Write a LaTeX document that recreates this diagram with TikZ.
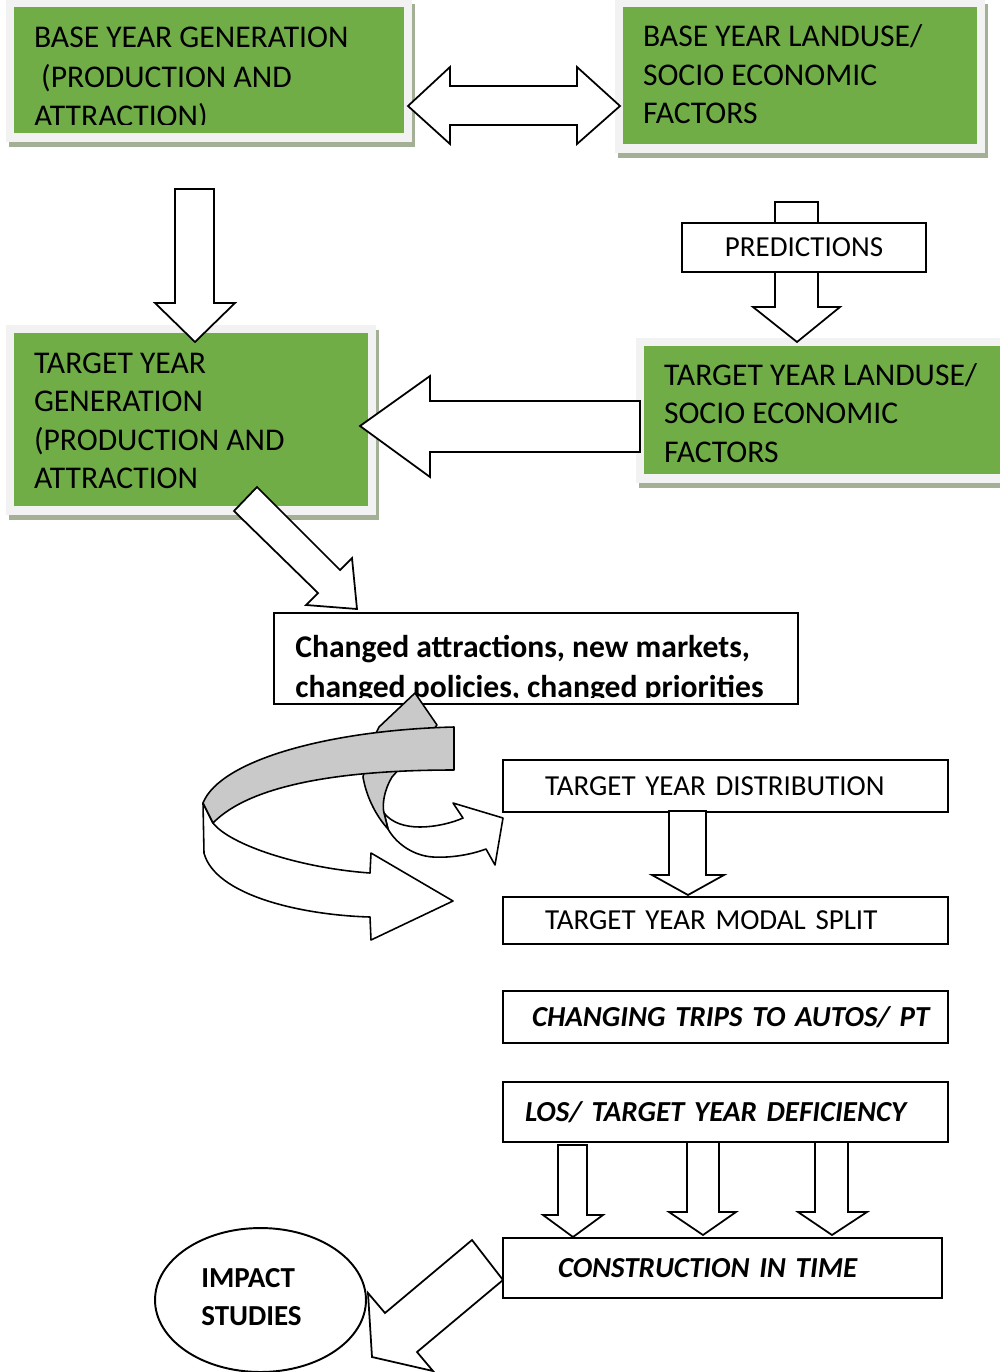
\documentclass[tikz,border=0pt]{standalone}
\usepackage{fontspec}
\setmainfont{Carlito}
\usetikzlibrary{positioning,calc,backgrounds,shapes.geometric}
\definecolor{leafgreen}{HTML}{70AD47}
\definecolor{framegray}{HTML}{F2F2F2}
\definecolor{shadowgreen}{HTML}{A3B096}
\definecolor{ribbongray}{HTML}{C9C9C9}
\tikzset{
  greenbox/.style={fill=leafgreen,inner sep=0pt},
  greentext/.style={anchor=base west,inner sep=0pt,align=left,font=\fontsize{18}{21.9}\selectfont},
  plainbox/.style={draw,fill=white,line width=1.1pt,inner ysep=0pt,align=left,font=\fontsize{16.5}{20}\selectfont},
  keybox/.style={plainbox,font=\fontsize{16.5}{20}\bfseries\itshape\selectfont},
  blockarrow/.style={draw,fill=white,line width=1pt,line join=miter},
  ribbon/.style={draw,line width=0.9pt,line join=round}
}

\begin{document}
\begin{tikzpicture}[x=0.02cm,y=-0.02cm]
    \useasboundingbox (0,0) rectangle (1000,1372);
    \node[greenbox,minimum width=7.8cm,minimum height=2.52cm] (bgen) at (209,70) {};
    \node[greenbox,minimum width=7.08cm,minimum height=2.74cm] (bland) at (800,75.5) {};
    \node[greenbox,minimum width=7.08cm,minimum height=3.46cm] (tgen) at (191,419.5) {};
    \node[greenbox,minimum width=7.2cm,minimum height=2.56cm] (tland) at (824,410) {};
    \begin{scope}[on background layer]
      \foreach \b in {bgen,bland,tgen,tland} {
        \fill[shadowgreen] ($(\b.north west)+(-5,-3)$) rectangle ($(\b.south east)+(11,14)$);
        \fill[framegray] ($(\b.north west)+(-8,-8)$) rectangle ($(\b.south east)+(8,9)$);
      }
    \end{scope}
    \begin{scope}
      \clip (bgen.north west) rectangle ($(bgen.south east)+(0,-9)$);
      \node[greentext,font=\fontsize{18}{22.4}\selectfont] (bgentxt) at ($(bgen.north west)+(20,120)$) {BASE YEAR GENERATION\\\ (PRODUCTION AND\\ATTRACTION)};
    \end{scope}
    \node[greentext] (blandtxt) at ($(bland.north west)+(20,117)$) {BASE YEAR LANDUSE/\\SOCIO ECONOMIC\\FACTORS};
    \node[greentext] (tgentxt) at ($(tgen.north west)+(20,156)$) {TARGET YEAR\\GENERATION\\(PRODUCTION AND\\ATTRACTION};
    \node[greentext] (tlandtxt) at ($(tland.north west)+(20,116.5)$) {TARGET YEAR LANDUSE/\\SOCIO ECONOMIC\\FACTORS};

    \draw[blockarrow] (408,106) -- (450,67) -- (450,86) -- (577,86) -- (577,67) -- (620,106) -- (577,144) -- (577,125) -- (450,125) -- (450,144) -- cycle;
    \draw[blockarrow] (175,189) -- (214,189) -- (214,303) -- (235,303) -- (195,342) -- (155,303) -- (175,303) -- cycle;
    \draw[blockarrow] (775,202) -- (818,202) -- (818,307) -- (840,307) -- (797,342) -- (753,307) -- (775,307) -- cycle;
    \node[plainbox,align=center,minimum width=4.88cm,minimum height=0.98cm] (pred) at (804,247.5) {PREDICTIONS};
    \draw[blockarrow] (360,426) -- (430,376) -- (430,401) -- (640,401) -- (640,452) -- (430,452) -- (430,477) -- cycle;
    \draw[blockarrow] (257,487) -- (340,570) -- (352,558) -- (357,609) -- (306,605) -- (318,593) -- (234,511) -- cycle;

    \node[draw,line width=1.1pt,minimum width=10.48cm,minimum height=1.82cm] (changed) at (536,658.5) {};
    \begin{scope}
      \clip (changed.north west) rectangle ($(changed.south east)+(0,-7)$);
      \node[anchor=base west,inner sep=0pt,align=left,font=\fontsize{18}{23}\bfseries\selectfont] (changedtxt) at (295,697.5) {Changed attractions, new markets,\\changed policies, changed priorities};
    \end{scope}

    \draw[ribbon,fill=white] (384,813) .. controls (392,823) and (405,827) .. (420,827) .. controls (435,827) and (452,823) .. (463,818) -- (453,803) -- (503,818) -- (495,865) -- (486,849) .. controls (470,855) and (450,858) .. (433,857) .. controls (415,856) and (397,845) .. (388,829) -- cycle;
    \draw[ribbon,fill=ribbongray] (415,693) -- (437,725) -- (425,740) -- (392,777) .. controls (384,790) and (382,805) .. (384,813) -- (388,829) .. controls (378,818) and (367,800) .. (363,777) -- (370,745) -- (379,727) -- cycle;
    \draw[ribbon,fill=white] (203,803) -- (204,853) .. controls (215,895) and (300,915) .. (370,917) -- (371,940) -- (453,901) -- (371,853) -- (370,873) .. controls (300,868) and (230,845) .. (213,823) -- cycle;
    \draw[ribbon,fill=ribbongray] (454,727) .. controls (330,730) and (220,760) .. (203,803) -- (213,823) .. controls (250,785) and (340,770) .. (454,770) -- cycle;

    \node[plainbox,minimum width=8.9cm,minimum height=1.04cm,text width=7.22cm,inner xsep=0.84cm] (dist) at (725.5,786) {TARGET YEAR DISTRIBUTION};
    \draw[blockarrow] (669,811) -- (706,811) -- (706,875) -- (724,875) -- (688,895) -- (652,875) -- (669,875) -- cycle;
    \node[plainbox,minimum width=8.9cm,minimum height=0.94cm,text width=7.22cm,inner xsep=0.84cm] (modal) at (725.5,920.5) {TARGET YEAR MODAL SPLIT};
    \node[keybox,minimum width=8.9cm,minimum height=1.04cm,text width=7.74cm,inner xsep=0.58cm] (trips) at (725.5,1017) {\mbox{CHANGING TRIPS TO AUTOS/ PT}};
    \node[keybox,minimum width=8.9cm,minimum height=1.2cm,text width=8.02cm,inner xsep=0.44cm] (los) at (725.5,1112) {LOS/ TARGET YEAR DEFICIENCY};
    \draw[blockarrow] (558,1145) -- (587,1145) -- (587,1215) -- (603,1215) -- (573,1237) -- (543,1215) -- (558,1215) -- cycle;
    \draw[blockarrow] (687,1142) -- (719,1142) -- (719,1212) -- (736,1212) -- (703,1235) -- (669,1212) -- (687,1212) -- cycle;
    \draw[blockarrow] (815,1142) -- (848,1142) -- (848,1212) -- (867,1212) -- (832,1235) -- (798,1212) -- (815,1212) -- cycle;
    \node[keybox,minimum width=8.78cm,minimum height=1.2cm,text width=6.58cm,inner xsep=1.1cm] (constr) at (722.5,1268) {CONSTRUCTION IN TIME};

    \node[draw,ellipse,line width=1.1pt,minimum width=4.22cm,minimum height=2.88cm] (impact) at (260.5,1300) {};
    \node[anchor=base west,inner sep=0pt,align=left,font=\fontsize{16.5}{21.5}\bfseries\selectfont] (impacttxt) at (201,1325) {IMPACT\\STUDIES};
    \draw[blockarrow] (503,1280) -- (472,1240) -- (385,1313) -- (368,1293) -- (372,1357) -- (433,1371) -- (417,1352) -- cycle;
\end{tikzpicture}
\end{document}
